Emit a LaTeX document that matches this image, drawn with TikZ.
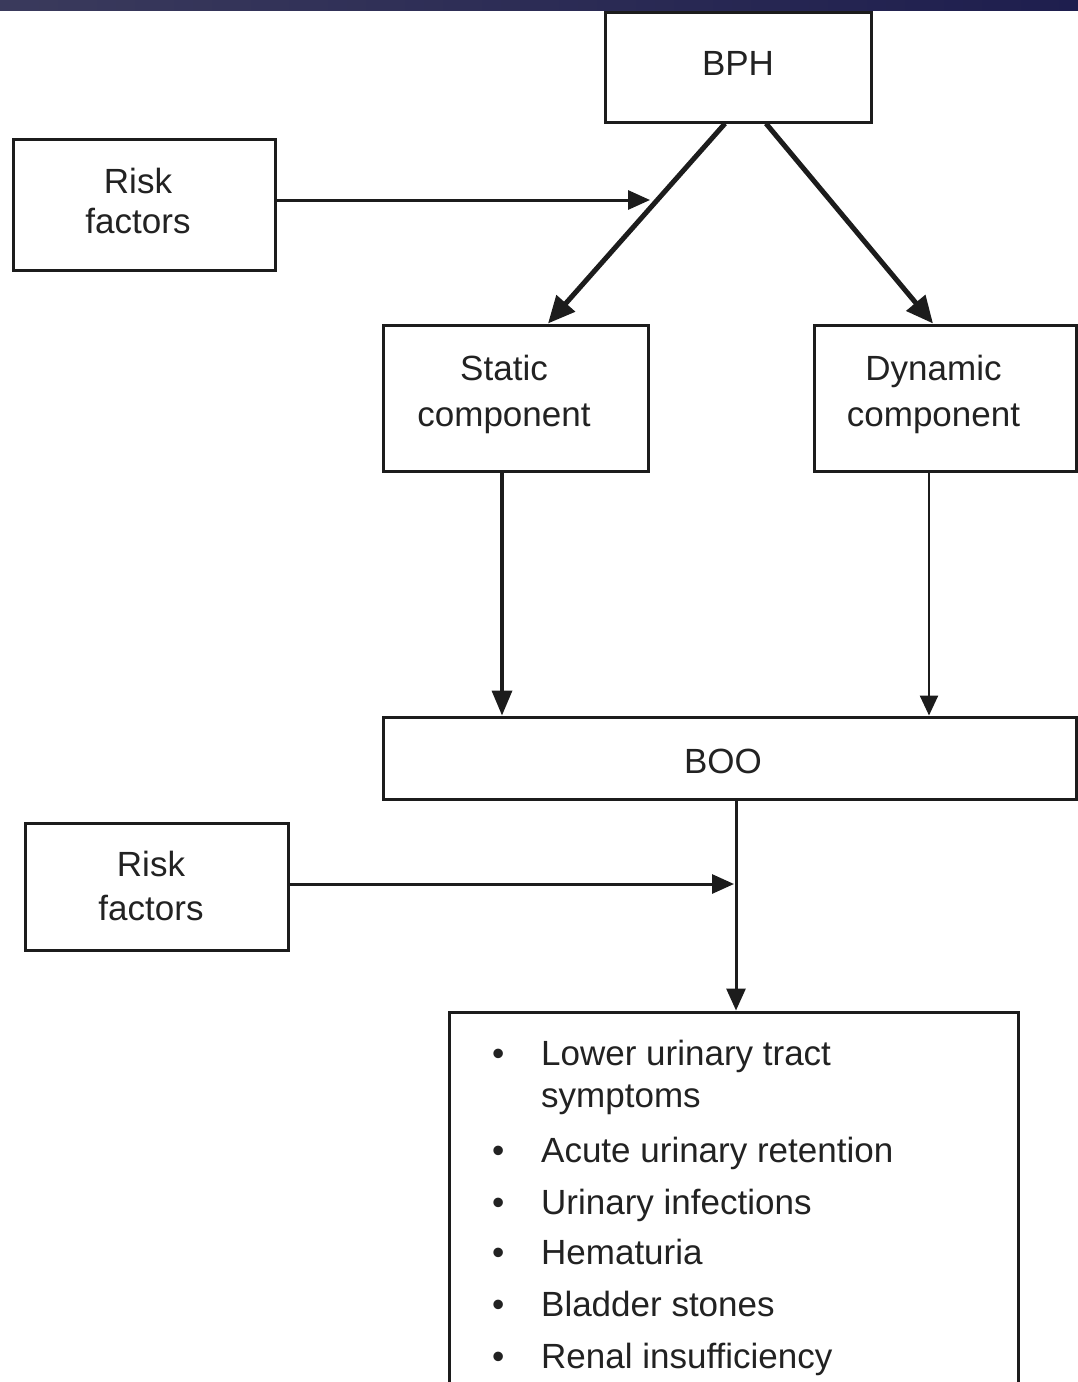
\documentclass[tikz,border=0pt]{standalone}
\usepackage{fontspec}
\setmainfont{Liberation Sans}
\usetikzlibrary{arrows.meta,calc}
\definecolor{txt}{HTML}{222222}
\definecolor{ln}{HTML}{1C1C1C}
\definecolor{bandL}{HTML}{3A3A5C}
\definecolor{bandR}{HTML}{1E1E4E}
\begin{document}
\begin{tikzpicture}[x=1pt,y=-1pt,
  box/.style={draw=ln, line width=3pt, inner sep=0pt},
  lbl/.style={inner sep=0pt, text=txt, align=center, font=\fontsize{35}{#1}\selectfont},
  lbl/.default=41,
  arr/.style={draw=ln, -{Triangle[length=22pt,width=19pt]}},
  bigarr/.style={draw=ln, line width=5pt, -{Triangle[length=27pt,width=24pt]}},
  listtext/.style={inner sep=0pt, text=txt, align=left, font=\fontsize{35}{42}\selectfont}
]
\useasboundingbox (0,0) rectangle (1078,1382);
\fill[white] (0,0) rectangle (1078,1382);
\shade[left color=bandL, right color=bandR] (0,0) rectangle (1078,10);

% boxes
\node[box, minimum width=266pt, minimum height=110pt] (bph) at (738,67) {};
\node[box, minimum width=262pt, minimum height=131pt] (risk1) at (144,204.5) {};
\node[box, minimum width=265pt, minimum height=146pt] (static) at (515.5,398) {};
\node[box, minimum width=262pt, minimum height=146pt] (dynamic) at (945,398) {};
\node[box, minimum width=693pt, minimum height=82pt] (boo) at (729.5,758) {};
\node[box, minimum width=263pt, minimum height=127pt] (risk2) at (156.5,886.5) {};
\node[box, minimum width=569pt, minimum height=400pt] (list) at (733.5,1212) {};

% texts
\node[lbl] (bphT) at (738,63) {BPH};
\node[lbl=40] (risk1T) at (138,201) {Risk\\factors};
\node[lbl=46] (staticT) at (504,394) {Static\\component};
\node[lbl=46] (dynamicT) at (933.5,394) {Dynamic\\component};
\node[lbl] (booT) at (723,761) {BOO};
\node[lbl=44] (risk2T) at (151,886) {Risk\\factors};
\node[listtext, anchor=north west] (items) at (492,1040) {%
\makebox[49pt][l]{•}Lower urinary tract\\
\hspace*{49pt}symptoms\\[13pt]
\makebox[49pt][l]{•}Acute urinary retention\\[10pt]
\makebox[49pt][l]{•}Urinary infections\\[8pt]
\makebox[49pt][l]{•}Hematuria\\[10pt]
\makebox[49pt][l]{•}Bladder stones\\[10pt]
\makebox[49pt][l]{•}Renal insufficiency};

% connectors
\coordinate (s1) at ([xshift=-13pt]bph.south);
\coordinate (s2) at ([xshift=28pt]bph.south);
\coordinate (t1) at ([xshift=32.5pt]static.north);
\coordinate (t2) at ([xshift=-12pt]dynamic.north);
\draw[bigarr] (s1) -- (t1);
\draw[bigarr] (s2) -- (t2);
\coordinate (mid1) at ($(s1)!0.384!(t1)$);
\coordinate (r1) at ([yshift=4.5pt]risk1.east);
\draw[arr, line width=3pt, shorten >=7pt] (r1) -- (r1 -| mid1);

\coordinate (a1) at ([xshift=-13.5pt]static.south);
\draw[arr, line width=3.5pt, -{Triangle[length=25pt,width=20pt]}] (a1) -- (a1 |- boo.north);
\coordinate (a2) at ([xshift=-16pt]dynamic.south);
\draw[arr, line width=2.5pt, -{Triangle[length=20pt,width=18pt]}] (a2) -- (a2 |- boo.north);
\coordinate (a3) at ([xshift=6.5pt]boo.south);
\draw[arr, line width=3pt] (a3) -- (a3 |- list.north);
\coordinate (r2) at ([yshift=2.5pt]risk2.east);
\coordinate (j2) at (r2 -| a3);
\draw[arr, line width=3pt, shorten >=2pt] (r2) -- (j2);
\end{tikzpicture}
\end{document}
